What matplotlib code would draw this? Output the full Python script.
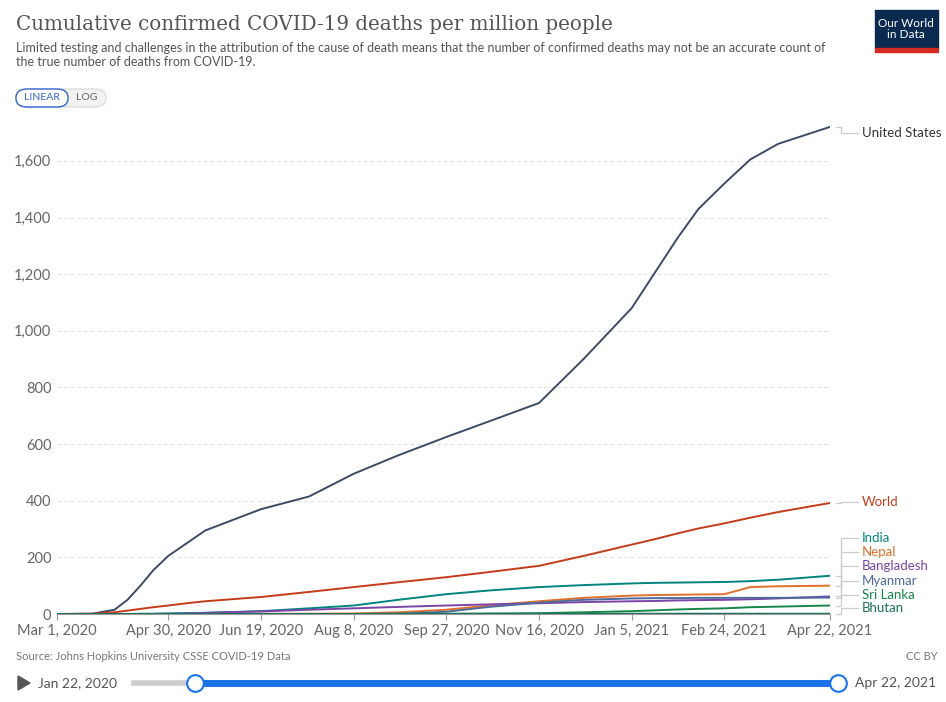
import matplotlib
matplotlib.use("Agg")
import matplotlib.pyplot as plt
import matplotlib.dates as mdates
import pandas as pd
from matplotlib.patches import FancyBboxPatch, Rectangle, Polygon

plt.rcParams["font.family"] = "Lato"

dates = pd.to_datetime([
    "2020-03-01", "2020-03-20", "2020-04-01", "2020-04-08", "2020-04-15", "2020-04-22",
    "2020-04-30", "2020-05-10", "2020-05-20", "2020-06-19", "2020-07-15", "2020-08-08",
    "2020-09-01", "2020-09-27", "2020-10-20", "2020-11-16", "2020-12-10", "2021-01-05",
    "2021-01-18", "2021-01-30", "2021-02-10", "2021-02-24", "2021-03-10", "2021-03-25",
    "2021-04-22",
])
us = [0, 1, 15, 50, 100, 155, 205, 250, 295, 370, 415, 495, 560, 625, 680, 745, 900, 1080,
      1210, 1330, 1430, 1520, 1605, 1660, 1720]
world = [0, 1, 6, 12, 18, 24, 30, 38, 45, 60, 78, 95, 112, 130, 148, 170, 205, 245,
         265, 285, 302, 320, 340, 360, 392]
india = [0, 0, 0, 0, 1, 1, 2, 3, 4, 10, 20, 30, 50, 70, 83, 95, 102, 108,
         110, 111, 112, 113, 116, 121, 135]
nepal = [0, 0, 0, 0, 0, 0, 0, 0, 0, 1, 1, 2, 6, 15, 30, 45, 57, 65,
         67, 68, 69, 70, 95, 98, 100]
bangladesh = [0, 0, 0, 0, 0, 0, 1, 2, 4, 9, 15, 20, 25, 30, 34, 38, 42, 45,
              46, 48, 49, 50, 52, 55, 62]
myanmar = [0, 0, 0, 0, 0, 0, 0, 0, 0, 0, 0, 0, 1, 8, 25, 40, 50, 55,
           56, 56, 57, 57, 57, 57, 58]
sri_lanka = [0, 0, 0, 0, 0, 0, 0, 0, 0, 0, 0, 0, 1, 1, 2, 3, 6, 10,
             13, 16, 18, 20, 24, 26, 30]
bhutan = [0, 0, 0, 0, 0, 0, 0, 0, 0, 0, 0, 0, 0, 0, 0, 0, 0, 1,
          1, 1, 1, 1, 1, 1, 1]

series = [
    ("United States", us, "#3c4b66"),
    ("World", world, "#c43c1a"),
    ("India", india, "#00847e"),
    ("Nepal", nepal, "#e0712c"),
    ("Bangladesh", bangladesh, "#7b45a8"),
    ("Myanmar", myanmar, "#4c6a9c"),
    ("Sri Lanka", sri_lanka, "#18864b"),
    ("Bhutan", bhutan, "#18705e"),
]
label_y = {"United States": 1700, "World": 395, "India": 268, "Nepal": 218, "Bangladesh": 168,
           "Myanmar": 118, "Sri Lanka": 68, "Bhutan": 20}

xticks = pd.to_datetime(["2020-03-01", "2020-04-30", "2020-06-19", "2020-08-08", "2020-09-27",
                         "2020-11-16", "2021-01-05", "2021-02-24", "2021-04-22"])
xtick_labels = ["Mar 1, 2020", "Apr 30, 2020", "Jun 19, 2020", "Aug 8, 2020", "Sep 27, 2020",
                "Nov 16, 2020", "Jan 5, 2021", "Feb 24, 2021", "Apr 22, 2021"]
yticks = [0, 200, 400, 600, 800, 1000, 1200, 1400, 1600]

W, H = 946, 702
fig = plt.figure(figsize=(W / 100, H / 100), dpi=100)
ax = fig.add_axes([57 / W, 1 - 614 / H, (830 - 57) / W, (614 - 115) / H])

for name, vals, col in series:
    ax.plot(dates, vals, color=col, lw=1.4)

ax.set_xlim(dates[0], dates[-1])
ax.set_ylim(0, 1762)
ax.set_yticks(yticks)
ax.set_yticklabels([f"{v:,}" for v in yticks], color="#666", fontsize=10.5)
ax.set_xticks(xticks)
ax.set_xticklabels(xtick_labels, color="#666", fontsize=10.5)
ax.tick_params(axis="y", length=0, pad=4)
ax.tick_params(axis="x", length=4, color="#999", pad=3)
ax.grid(axis="y", color="#ddd", linestyle=(0, (3, 3)), lw=0.8)
for s in ["top", "right", "left"]:
    ax.spines[s].set_visible(False)
ax.spines["bottom"].set_color("#999")

# right-side labels with connector lines
x_end = mdates.date2num(dates[-1])
for name, vals, col in series:
    ly = label_y[name]
    ax.plot([x_end + 3, x_end + 6, x_end + 6, x_end + 15], [vals[-1], vals[-1], ly, ly],
            color="#ccc", lw=0.9, clip_on=False)
    txt_col = "#333" if name == "United States" else col
    ax.text(x_end + 17, ly, name, color=txt_col, fontsize=9.5, va="center", ha="left",
            clip_on=False)

fig.text(16 / W, 1 - 25 / H, "Cumulative confirmed COVID-19 deaths per million people",
         fontsize=14.3, family="DejaVu Serif", color="#555", va="center")
fig.text(16 / W, 1 - 55 / H,
         "Limited testing and challenges in the attribution of the cause of death means that the number of confirmed deaths may not be an accurate count of\nthe true number of deaths from COVID-19.",
         fontsize=9, color="#555", va="center", linespacing=1.3)

# logo
fig.patches.append(Rectangle((875 / W, 1 - 48 / H), 63 / W, 38 / H, transform=fig.transFigure,
                             color="#0b2a4f"))
fig.patches.append(Rectangle((875 / W, 1 - 52 / H), 63 / W, 4 / H, transform=fig.transFigure,
                             color="#d42b21"))
fig.text(906 / W, 1 - 29 / H, "Our World\nin Data", color="white", fontsize=8.5, ha="center",
         va="center", linespacing=1.1)

# linear / log buttons
fig.patches.append(FancyBboxPatch((16 / W, 1 - 107 / H), 90 / W, 18 / H, transform=fig.transFigure,
                                  boxstyle="round,pad=0,rounding_size=0.012", fc="#f2f2f2", ec="#ddd"))
fig.patches.append(FancyBboxPatch((16 / W, 1 - 107 / H), 52 / W, 18 / H, transform=fig.transFigure,
                                  boxstyle="round,pad=0,rounding_size=0.012", fc="white", ec="#3366cc"))
fig.text(42 / W, 1 - 98 / H, "LINEAR", color="#3366cc", fontsize=7.5, ha="center", va="center")
fig.text(87 / W, 1 - 98 / H, "LOG", color="#666", fontsize=7.5, ha="center", va="center")

# footer
fig.text(16 / W, 1 - 657 / H, "Source: Johns Hopkins University CSSE COVID-19 Data", fontsize=8,
         color="#777", va="center")
fig.text(938 / W, 1 - 657 / H, "CC BY", fontsize=8, color="#777", va="center", ha="right")
fig.patches.append(Polygon([(18 / W, 1 - 676 / H), (18 / W, 1 - 690 / H), (30 / W, 1 - 683 / H)],
                           transform=fig.transFigure, color="#555"))
fig.text(38 / W, 1 - 683 / H, "Jan 22, 2020", fontsize=10, color="#555", va="center")
fig.text(855 / W, 1 - 683 / H, "Apr 22, 2021", fontsize=10, color="#555", va="center")
fig.add_artist(plt.Line2D([134 / W, 838 / W], [1 - 683 / H] * 2, color="#ccc", lw=4))
fig.add_artist(plt.Line2D([195 / W, 838 / W], [1 - 683 / H] * 2, color="#1a73e8", lw=5))
for px in (195, 838):
    fig.add_artist(plt.Line2D([px / W], [1 - 683 / H], marker="o", ms=12, mfc="white",
                              mec="#1a73e8", mew=1.5))

fig.savefig("out.png", dpi=100)
